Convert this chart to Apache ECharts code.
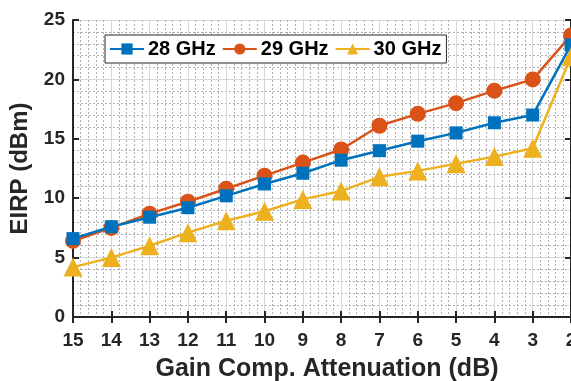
<!DOCTYPE html>
<html>
<head>
<meta charset="utf-8">
<script src="https://cdn.jsdelivr.net/npm/echarts@6/dist/echarts.min.js"></script>
<style>
  html, body { margin: 0; padding: 0; background: #fff; }
  #chart { width: 571px; height: 381px; }
</style>
</head>
<body>
<div id="chart"></div>
<script>
// attenuation setting (dB), reversed axis
const attenuation = [15, 14, 13, 12, 11, 10, 9, 8, 7, 6, 5, 4, 3, 2]
const eirp28 = [6.6, 7.6, 8.4, 9.2, 10.2, 11.2, 12.1, 13.2, 14.0, 14.8, 15.5, 16.35, 17.0, 22.9]
const eirp29 = [6.4, 7.5, 8.7, 9.7, 10.8, 11.9, 13.0, 14.1, 16.1, 17.1, 18.0, 19.05, 20.0, 23.7]
const eirp30 = [4.2, 5.0, 6.0, 7.1, 8.1, 8.9, 9.9, 10.6, 11.8, 12.3, 12.9, 13.5, 14.2, 21.9]
const seriesNames = ['28 GHz', '29 GHz', '30 GHz']

const chart = echarts.init(document.getElementById('chart'))

const pairs = (vals) => attenuation.map((x, i) => [x, vals[i]])

const fontBold = { fontFamily: 'Arial, Liberation Sans', fontWeight: 'bold', color: '#262626' }

const minorLine = { show: true, lineStyle: { color: '#b0b0b0', type: [2, 2], width: 1 } }
const majorLine = { show: true, lineStyle: { color: '#d8d8d8', width: 1 } }
const boxLine = { show: true, lineStyle: { color: '#262626', width: 2 } }
const boxTick = { show: true, inside: true, length: 6, lineStyle: { color: '#262626', width: 2 } }

const option = {
  animation: false,
  grid: { left: 73, top: 20, right: 0, bottom: 64, outerBoundsMode: 'none' },
  legend: {
    data: seriesNames,
    left: 105,
    top: 35,
    padding: [4, 5, 4, 4],
    itemGap: 6,
    itemWidth: 34,
    itemHeight: 14,
    backgroundColor: '#fff',
    borderColor: '#262626',
    borderWidth: 1,
    textStyle: { ...fontBold, fontSize: 20, color: '#000', padding: [0, 0, 0, -1] }
  },
  xAxis: [
    {
      type: 'value',
      inverse: true,
      min: 2,
      max: 15,
      interval: 1,
      name: 'Gain Comp. Attenuation (dB)',
      nameLocation: 'middle',
      nameGap: 40,
      nameTextStyle: { ...fontBold, fontSize: 25, padding: [0, 0, 0, 10] },
      axisLine: boxLine,
      axisTick: boxTick,
      axisLabel: { ...fontBold, fontSize: 19, margin: 14 },
      splitLine: majorLine,
      minorTick: { show: false, splitNumber: 5 },
      minorSplitLine: minorLine
    },
    {
      type: 'value',
      position: 'top',
      inverse: true,
      min: 2,
      max: 15,
      interval: 1,
      axisLine: boxLine,
      axisTick: boxTick,
      axisLabel: { show: false },
      splitLine: { show: false }
    }
  ],
  yAxis: [
    {
      type: 'value',
      min: 0,
      max: 25,
      interval: 5,
      name: 'EIRP (dBm)',
      nameLocation: 'middle',
      nameGap: 41,
      nameTextStyle: { ...fontBold, fontSize: 24 },
      axisLine: boxLine,
      axisTick: boxTick,
      axisLabel: { ...fontBold, fontSize: 19, margin: 8 },
      splitLine: majorLine,
      minorTick: { show: false, splitNumber: 5 },
      minorSplitLine: minorLine
    },
    {
      type: 'value',
      position: 'right',
      min: 0,
      max: 25,
      interval: 5,
      axisLine: boxLine,
      axisTick: boxTick,
      axisLabel: { show: false },
      splitLine: { show: false }
    }
  ],
  series: [
    {
      name: seriesNames[0],
      type: 'line',
      data: pairs(eirp28),
      color: '#0072BD',
      symbol: 'rect',
      symbolSize: 13,
      lineStyle: { width: 2.5 },
      z: 3
    },
    {
      name: seriesNames[1],
      type: 'line',
      data: pairs(eirp29),
      color: '#D95319',
      symbol: 'circle',
      symbolSize: 16,
      lineStyle: { width: 2.5 },
      z: 2
    },
    {
      name: seriesNames[2],
      type: 'line',
      data: pairs(eirp30),
      color: '#EDB120',
      symbol: 'triangle',
      symbolSize: 19,
      lineStyle: { width: 2.5 },
      z: 4
    }
  ]
}

chart.setOption(option)
</script>
</body>
</html>
